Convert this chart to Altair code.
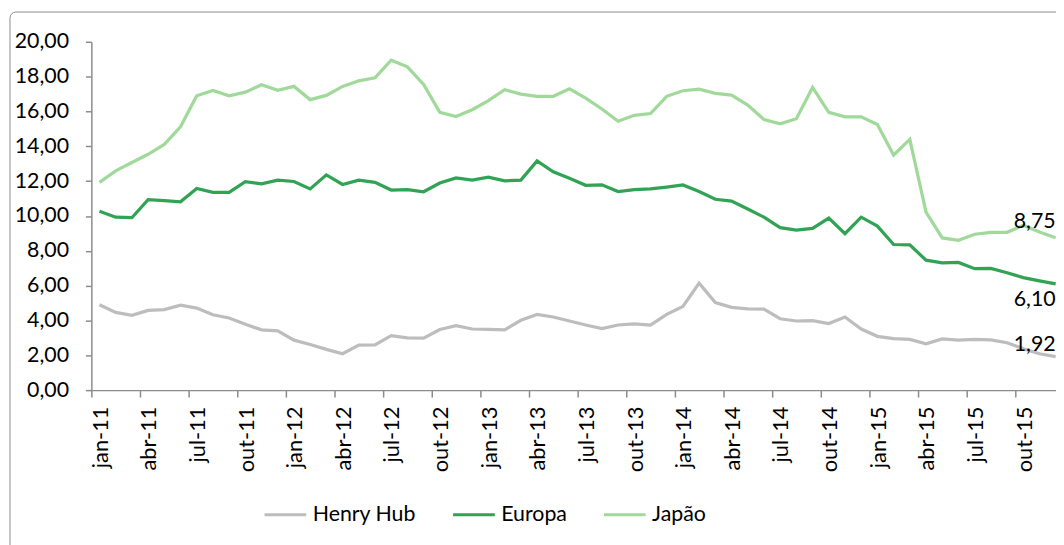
import json
import altair as alt
import pandas as pd

MONTHS = ["jan", "fev", "mar", "abr", "mai", "jun", "jul", "ago", "set", "out", "nov", "dez"]
YEARS = ["11", "12", "13", "14", "15"]
PERIODS = [f"{m}-{y}" for y in YEARS for m in MONTHS]
TICK_LABELS = PERIODS[::3]

SERIES = ["Henry Hub", "Europa", "Japão"]
COLORS = ["#BDBDBD", "#31A354", "#A1D99B"]

HENRY_HUB = [4.90, 4.46, 4.29, 4.58, 4.62, 4.88, 4.71, 4.33, 4.14, 3.78,
             3.46, 3.40, 2.87, 2.62, 2.34, 2.09, 2.58, 2.60, 3.13, 3.00,
             2.98, 3.48, 3.70, 3.51, 3.49, 3.46, 4.01, 4.35, 4.20, 3.97,
             3.74, 3.53, 3.74, 3.80, 3.74, 4.35, 4.80, 6.14, 5.03, 4.75,
             4.67, 4.65, 4.10, 3.97, 3.99, 3.82, 4.20, 3.51, 3.09, 2.96,
             2.91, 2.66, 2.94, 2.87, 2.91, 2.89, 2.72, 2.38, 2.09, 1.92]
EUROPA = [10.27, 9.93, 9.90, 10.94, 10.88, 10.81, 11.58, 11.36, 11.36, 11.97,
          11.85, 12.06, 11.98, 11.55, 12.36, 11.81, 12.06, 11.93, 11.49, 11.51,
          11.39, 11.89, 12.18, 12.06, 12.23, 12.02, 12.06, 13.16, 12.54, 12.16,
          11.76, 11.79, 11.40, 11.51, 11.55, 11.66, 11.78, 11.40, 10.96, 10.85,
          10.40, 9.93, 9.33, 9.19, 9.29, 9.88, 8.98, 9.93, 9.42, 8.36,
          8.34, 7.46, 7.31, 7.33, 6.97, 6.99, 6.74, 6.46, 6.27, 6.10]
JAPAO = [11.93, 12.59, 13.07, 13.54, 14.11, 15.12, 16.90, 17.21, 16.90, 17.11,
         17.53, 17.21, 17.44, 16.68, 16.92, 17.44, 17.76, 17.93, 18.94, 18.56,
         17.55, 15.95, 15.71, 16.10, 16.62, 17.25, 17.00, 16.87, 16.87, 17.30,
         16.77, 16.14, 15.44, 15.78, 15.88, 16.87, 17.19, 17.28, 17.04, 16.94,
         16.37, 15.54, 15.29, 15.58, 17.38, 15.95, 15.69, 15.69, 15.25, 13.50,
         14.40, 10.22, 8.74, 8.60, 8.95, 9.06, 9.06, 9.46, 9.08, 8.75]

Y_TICKS = [0, 2, 4, 6, 8, 10, 12, 14, 16, 18, 20]

rows = []
for name, vals in zip(SERIES, [HENRY_HUB, EUROPA, JAPAO]):
    for i, v in enumerate(vals):
        rows.append({"idx": i, "periodo": PERIODS[i], "serie": name, "valor": v})
df = pd.DataFrame(rows)
last_idx = len(PERIODS) - 1

FONT = "Lato"
AXIS_COLOR = "#8C8C8C"

x_scale = alt.Scale(domain=[-0.5, last_idx + 0.02], nice=False, zero=False)
y_scale = alt.Scale(domain=[0, 20], nice=False)

x_axis = alt.Axis(
    values=[-0.5 + 3 * k for k in range(len(TICK_LABELS))],
    labelExpr=json.dumps(TICK_LABELS) + "[round((datum.value + 0.5) / 3)]",
    labelAngle=-90, labelOffset=9, tickSize=7, labelPadding=9,
    labelFlush=False, labelOverlap=False, labelBound=False,
    grid=False, title=None, labelFontSize=22,
)
y_axis = alt.Axis(
    values=Y_TICKS,
    labelExpr="replace(format(datum.value, '.2f'), '.', ',')",
    tickSize=6, labelPadding=17, grid=False, title=None,
    labelOverlap=False, labelFlush=False, labelBound=False, labelFontSize=21.5,
)

lines = alt.Chart(df).mark_line(strokeWidth=3.25).encode(
    x=alt.X("idx:Q", scale=x_scale, axis=x_axis),
    y=alt.Y("valor:Q", scale=y_scale, axis=y_axis),
    color=alt.Color(
        "serie:N",
        scale=alt.Scale(domain=SERIES, range=COLORS),
        sort=SERIES,
        legend=alt.Legend(
            orient="none", legendX=173, legendY=454, direction="horizontal",
            title=None, symbolType="stroke", symbolSize=1764, symbolStrokeWidth=3,
            labelFontSize=21.5, labelFont=FONT, labelColor="black",
            columnPadding=30, labelOffset=5, padding=0,
        ),
    ),
)

label_dy = {"Henry Hub": -12, "Europa": 16, "Japão": -16}
labels = []
for name in SERIES:
    labels.append(
        alt.Chart(df)
        .transform_filter(f"datum.serie == '{name}' && datum.idx == {last_idx}")
        .transform_calculate(rotulo="replace(format(datum.valor, '.2f'), '.', ',')")
        .mark_text(align="right", baseline="middle", dy=label_dy[name],
                   fontSize=21.5, font=FONT, color="black")
        .encode(x=alt.X("idx:Q", scale=x_scale, axis=x_axis),
                y=alt.Y("valor:Q", scale=y_scale, axis=y_axis),
                text="rotulo:N")
    )

frame = alt.Chart(pd.DataFrame({"k": [0]})).mark_rect(
    fillOpacity=0, stroke=AXIS_COLOR, strokeWidth=1, cornerRadius=6
).encode(x=alt.value(-82), x2=alt.value(1010), y=alt.value(-30), y2=alt.value(540))

chart = alt.layer(frame, lines, *labels).properties(
    width=972, height=351,
    autosize=alt.AutoSizeParams(type="none"),
    padding={"left": 84, "top": 32, "right": 0, "bottom": 154},
).configure_view(stroke=None).configure_axis(
    labelFont=FONT, labelFontSize=20, labelColor="black",
    domainColor=AXIS_COLOR, tickColor=AXIS_COLOR, domainWidth=1.5, tickWidth=1.5,
)

chart.save("out.html", embed_options={"renderer": "svg", "actions": False})
